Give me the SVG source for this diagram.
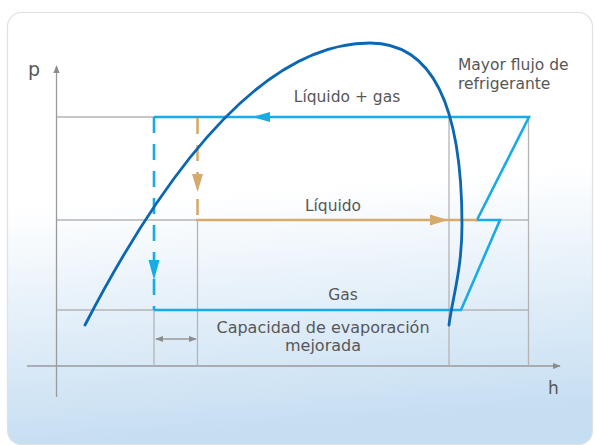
<svg xmlns="http://www.w3.org/2000/svg" width="595" height="445" viewBox="0 0 595 445">
<defs>
<linearGradient id="bg" x1="0" y1="0" x2="0.1" y2="1">
<stop offset="0" stop-color="#ffffff"/>
<stop offset="0.45" stop-color="#ffffff"/>
<stop offset="1" stop-color="#c6def2"/>
</linearGradient>
<marker id="ga" viewBox="0 0 10 10" refX="9" refY="5" markerWidth="8" markerHeight="8" markerUnits="userSpaceOnUse" orient="auto-start-reverse"><path d="M0,1 L10,5 L0,9 Z" fill="#8c8c8c"/></marker>
</defs>
<style>
.grid{stroke:#b4b4b4;stroke-width:1.3;fill:none}
.axis{stroke:#9a9a9a;stroke-width:1.3;fill:none}
.lb{stroke:#17ace6;stroke-width:2.6;fill:none}
.or{stroke:#d6aa6c;stroke-width:2.6;fill:none}
.dome{stroke:#0b67b2;stroke-width:2.8;fill:none;stroke-linecap:round}
text{font-family:"DejaVu Sans","Noto Sans","Liberation Sans",sans-serif;fill:#575757;font-size:15.5px}
</style>
<g id="card"><rect x="7.5" y="12.5" width="585" height="432" rx="14" fill="url(#bg)" stroke="#e0e0e0" stroke-width="1.2"/></g>
<g id="axes">
<line class="axis" x1="56.5" y1="397" x2="56.5" y2="66" marker-end="url(#ga)"/>
<line class="axis" x1="27" y1="366" x2="560" y2="366" marker-end="url(#ga)"/>
<text x="28" y="76" style="font-size:19px">p</text>
<text x="548" y="394" style="font-size:17px">h</text>
</g>
<g id="grid">
<line class="grid" x1="57" y1="117" x2="528" y2="117"/>
<line class="grid" x1="57" y1="220" x2="528" y2="220"/>
<line class="grid" x1="57" y1="310" x2="528" y2="310"/>
<line class="grid" x1="154" y1="310" x2="154" y2="366"/>
<line class="grid" x1="197.5" y1="220" x2="197.5" y2="366"/>
<line class="grid" x1="449" y1="117" x2="449" y2="366"/>
<line class="grid" x1="528.5" y1="117" x2="528.5" y2="366"/>
</g>
<g id="connectors">
<polyline class="lb" points="154,117 529,117 477,220 500,220 461,310 154,310"/>
<line class="lb" x1="154" y1="117" x2="154" y2="310" stroke-dasharray="16 11"/>
<path d="M252,117 L270,112 L270,122 Z" fill="#17ace6"/>
<path d="M154,280 L148.5,260 L159.5,260 Z" fill="#17ace6"/>
<line class="or" x1="197.5" y1="118" x2="197.5" y2="220" stroke-dasharray="16 11"/>
<line class="or" x1="196.2" y1="220" x2="477" y2="220"/>
<path d="M197.5,192 L192,174 L203,174 Z" fill="#d6aa6c"/>
<path d="M448,220 L430,214.5 L430,225.5 Z" fill="#d6aa6c"/>
<path class="dome" d="M85,325 C185,132 280,43 370,43 C430,43 462,100 462,225 C462,270 452,300 449,325"/>
<line class="axis" x1="156" y1="339" x2="196" y2="339" marker-start="url(#ga)" marker-end="url(#ga)"/>
</g>
<g id="labels">
<text x="458" y="70">Mayor flujo de</text>
<text x="458" y="89">refrigerante</text>
<text x="347" y="102" text-anchor="middle">Líquido + gas</text>
<text x="333" y="211" text-anchor="middle">Líquido</text>
<text x="343" y="300" text-anchor="middle">Gas</text>
<text x="323" y="333" text-anchor="middle" style="font-size:16px">Capacidad de evaporación</text>
<text x="323" y="351" text-anchor="middle" style="font-size:16px">mejorada</text>
</g>
</svg>
